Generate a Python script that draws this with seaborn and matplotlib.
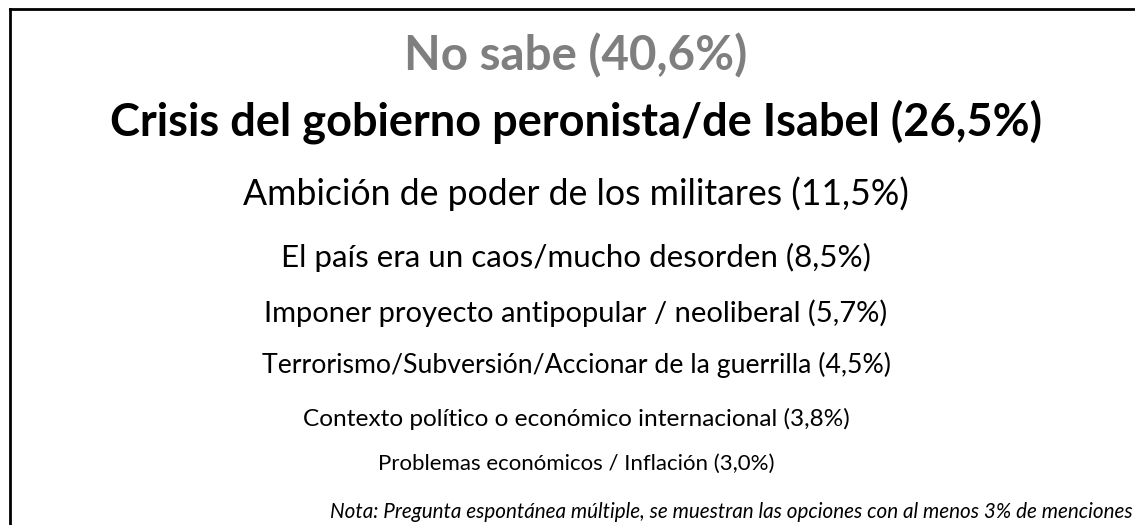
import matplotlib
matplotlib.use("Agg")
import matplotlib.pyplot as plt
import seaborn as sns

categories = [
    "No sabe",
    "Crisis del gobierno peronista/de Isabel",
    "Ambición de poder de los militares",
    "El país era un caos/mucho desorden",
    "Imponer proyecto antipopular / neoliberal",
    "Terrorismo/Subversión/Accionar de la guerrilla",
    "Contexto político o económico internacional",
    "Problemas económicos / Inflación",
]
values = [40.6, 26.5, 11.5, 8.5, 5.7, 4.5, 3.8, 3.0]
note = "Nota: Pregunta espontánea múltiple, se muestran las opciones con al menos 3% de menciones"

# layout / style (not data): baseline in px from top, target text width in px
baselines = [70, 135, 205, 267, 322, 373, 426, 470]
widths = [343, 932, 665, 590, 622, 627, 547, 395]
weights = ["bold", "bold", "normal", "normal", "normal", "normal", "normal", "normal"]
colors = ["#7f7f7f", "black", "black", "black", "black", "black", "black", "black"]

sns.set_theme(style="white")
plt.rcParams["font.family"] = ["Lato", "DejaVu Sans"]

W, H = 1135, 525
fig = plt.figure(figsize=(W / 100, H / 100), dpi=100)
fig.patch.set_facecolor("white")
ax = fig.add_axes([10 / W, 0, 1.5, (H - 9) / H])
ax.set_xlim(0, 1.5 * W)       # 1 data unit = 1 pixel
ax.set_ylim(0, H - 9)
for s in ["right", "bottom"]:
    ax.spines[s].set_visible(False)
for s in ["top", "left"]:
    ax.spines[s].set_visible(True)
    ax.spines[s].set_color("black")
    ax.spines[s].set_linewidth(2)
ax.set_xticks([])
ax.set_yticks([])

cx = 576 - 10
texts = []
for cat, v, b, w, c in zip(categories, values, baselines, weights, colors):
    label = f"{cat} ({v:.1f}%)".replace(".", ",")
    t = ax.text(cx, H - b, label, ha="center", va="baseline", fontsize=20, fontweight=w, color=c)
    texts.append(t)

nt = ax.text(1133 - 10, H - 518, note, ha="right", va="baseline", fontsize=14, fontstyle="italic", color="black")
texts.append(nt)
targets = widths + [805]

fig.canvas.draw()
renderer = fig.canvas.get_renderer()
for _ in range(2):
    for t, tw in zip(texts, targets):
        bb = t.get_window_extent(renderer)
        t.set_fontsize(t.get_fontsize() * tw / bb.width)
    fig.canvas.draw()

fig.savefig("out.png", dpi=100)
